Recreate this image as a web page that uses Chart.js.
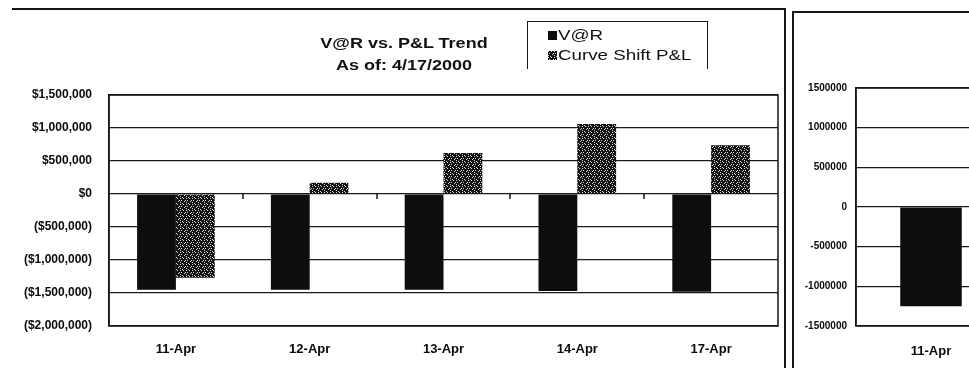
<!DOCTYPE html>
<html>
<head>
<meta charset="utf-8">
<script src="https://cdn.jsdelivr.net/npm/chart.js@4/dist/chart.umd.min.js"></script>
<style>
  body { margin: 0; background: #fff; width: 969px; height: 378px; overflow: hidden; position: relative;
         font-family: Arial, "Liberation Sans", sans-serif; color: #111; }
  #left { position: absolute; left: 0; top: 0; }
  #rightBox { position: absolute; left: 793px; top: 0; width: 176px; height: 370px; overflow: hidden; }
  #right { position: absolute; left: 0; top: 0; }
  .rule { position: absolute; background: #151515; }
  #title { position: absolute; left: 284px; top: 32px; width: 240px; text-align: center;
           font-weight: bold; font-size: 15px; line-height: 22px; transform: scaleX(1.2); }
  #legend { position: absolute; left: 527px; top: 21px; width: 179px; height: 47px;
            border: 1.5px solid #151515; border-bottom: none; }
  .row { position: absolute; left: 20px; height: 20px; }
  .row .sw { position: absolute; left: 0; top: 6px; width: 9px; height: 9px; }
  .row .tx { position: absolute; left: 10px; top: 0; white-space: nowrap; font-size: 15px; line-height: 20px;
             transform: scaleX(1.25); transform-origin: left center; }
</style>
</head>
<body>
<div class="rule" style="left:12px;top:8px;width:774px;height:1.5px"></div>
<div class="rule" style="left:784px;top:8px;width:1.5px;height:360px"></div>
<div class="rule" style="left:792px;top:11px;width:177px;height:1.5px"></div>
<div class="rule" style="left:792px;top:11px;width:1.5px;height:357px"></div>

<canvas id="left" width="785" height="370"></canvas>
<div id="rightBox"><canvas id="right" width="213" height="370"></canvas></div>

<div id="title">V@R vs. P&amp;L Trend<br>As of: 4/17/2000</div>
<div id="legend"></div>

<script>
// trade dates
const dates = ['11-Apr', '12-Apr', '13-Apr', '14-Apr', '17-Apr'];
// value at risk per day
const varValues = [-1450000, -1450000, -1450000, -1470000, -1480000];
// P&L from the curve shift
const pnlValues = [-1270000, 170000, 620000, 1060000, 740000];

// second panel
const sideDates = ['11-Apr'];
const sideValues = [-1250000];

const leftTicks = [1500000, 1000000, 500000, 0, -500000, -1000000, -1500000, -2000000];
const sideTicks = [1500000, 1000000, 500000, 0, -500000, -1000000, -1500000];

// speckled fill for the P&L bars
const tile = document.createElement('canvas');
tile.width = tile.height = 6;
const tc = tile.getContext('2d');
tc.fillStyle = '#121212';
tc.fillRect(0, 0, 6, 6);
tc.fillStyle = '#d8d8d8';
[[0, 0], [3, 0], [1, 2], [5, 2], [4, 3], [0, 4], [2, 5]].forEach(([a, b]) => tc.fillRect(a, b, 1, 1));
const stipple = document.getElementById('left').getContext('2d').createPattern(tile, 'repeat');

function money(v) {
  const s = '$' + Math.abs(v).toLocaleString('en-US');
  return v < 0 ? '(' + s + ')' : s;
}

// box round the plot and small ticks on the zero line between dates
const plotFrame = {
  id: 'plotFrame',
  afterDraw(chart) {
    const { ctx, chartArea: a, scales: { x, y } } = chart;
    ctx.save();
    ctx.strokeStyle = '#151515';
    ctx.lineWidth = 1.5;
    ctx.strokeRect(a.left, a.top, a.right - a.left, a.bottom - a.top);
    if (chart.options.plugins.plotFrame.zeroTicks) {
      const z = y.getPixelForValue(0);
      for (let i = 1; i < x.ticks.length; i++) {
        const px = Math.round((x.getPixelForValue(i - 1) + x.getPixelForValue(i)) / 2);
        ctx.beginPath();
        ctx.moveTo(px, z - 1);
        ctx.lineTo(px, z + 5);
        ctx.stroke();
      }
    }
    ctx.restore();
  }
};

const leftChart = new Chart(document.getElementById('left'), {
  type: 'bar',
  data: {
    labels: dates,
    datasets: [
      { label: 'V@R', data: varValues, backgroundColor: '#0d0d0d' },
      { label: 'Curve Shift P&L', data: pnlValues, backgroundColor: stipple }
    ]
  },
  options: {
    responsive: false,
    animation: false,
    layout: { padding: { left: 0, right: 7, top: 95, bottom: 0 } },
    datasets: { bar: { barPercentage: 1, categoryPercentage: 0.58 } },
    plugins: {
      legend: { display: false },
      tooltip: { enabled: false },
      plotFrame: { zeroTicks: true }
    },
    scales: {
      x: {
        grid: { display: false },
        border: { display: false },
        ticks: { color: '#0a0a0a', padding: 8, font: { family: 'Arial', weight: 'bold', size: 13 } },
        afterFit(s) { s.height = 44; }
      },
      y: {
        min: -2000000,
        max: 1500000,
        afterBuildTicks(s) { s.ticks = leftTicks.map(v => ({ value: v })); },
        grid: { color: '#1a1a1a', lineWidth: 1.2, drawTicks: false },
        border: { color: '#151515', width: 1.5 },
        ticks: { color: '#0a0a0a', padding: 17, callback: v => money(v),
                 font: { family: 'Arial', weight: 'bold', size: 12 } },
        afterFit(s) { s.width = 109; }
      }
    }
  },
  plugins: [plotFrame]
});

new Chart(document.getElementById('right'), {
  type: 'bar',
  data: {
    labels: sideDates,
    datasets: [{ label: 'V@R', data: sideValues, backgroundColor: '#0d0d0d' }]
  },
  options: {
    responsive: false,
    animation: false,
    layout: { padding: { left: 0, right: 0, top: 88, bottom: 0 } },
    datasets: { bar: { barPercentage: 1, categoryPercentage: 0.41 } },
    plugins: {
      legend: { display: false },
      tooltip: { enabled: false },
      plotFrame: { zeroTicks: false }
    },
    scales: {
      x: {
        grid: { display: false },
        border: { display: false },
        ticks: { color: '#0a0a0a', padding: 10, font: { family: 'Arial', weight: 'bold', size: 13 } },
        afterFit(s) { s.height = 44; }
      },
      y: {
        min: -1500000,
        max: 1500000,
        afterBuildTicks(s) { s.ticks = sideTicks.map(v => ({ value: v })); },
        grid: { color: '#1a1a1a', lineWidth: 1.2, drawTicks: false },
        border: { color: '#151515', width: 1.5 },
        ticks: { color: '#0a0a0a', padding: 9, callback: v => String(v),
                 font: { family: 'Arial', weight: 'bold', size: 10 } },
        afterFit(s) { s.width = 63; }
      }
    }
  },
  plugins: [plotFrame]
});

// legend built from the left chart's datasets
const legend = document.getElementById('legend');
const tileUrl = tile.toDataURL();
leftChart.data.datasets.forEach((ds, i) => {
  const row = document.createElement('div');
  row.className = 'row';
  row.style.top = (3 + i * 20) + 'px';
  const sw = document.createElement('div');
  sw.className = 'sw';
  if (typeof ds.backgroundColor === 'string') sw.style.background = ds.backgroundColor;
  else sw.style.backgroundImage = 'url(' + tileUrl + ')';
  const tx = document.createElement('div');
  tx.className = 'tx';
  tx.textContent = ds.label;
  row.appendChild(sw);
  row.appendChild(tx);
  legend.appendChild(row);
});
</script>
</body>
</html>
